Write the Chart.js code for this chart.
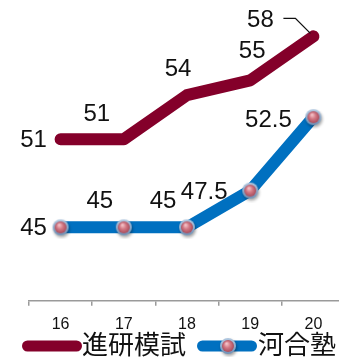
<!DOCTYPE html>
<html>
<head>
<meta charset="utf-8">
<script src="https://cdn.jsdelivr.net/npm/chart.js@4/dist/chart.umd.min.js"></script>
<style>
html,body{margin:0;padding:0;background:#fff;overflow:hidden;}
#wrap{width:339px;height:357px;overflow:hidden;position:relative;}
canvas{display:block;}
</style>
</head>
<body>
<div id="wrap"><canvas id="c" width="345" height="357"></canvas></div>
<script>
const categories = ['16', '17', '18', '19', '20'];
const shinkenValues = [51, 51, 54, 55, 58];
const kawaiValues = [45, 45, 45, 47.5, 52.5];
const seriesNames = ['進研模試', '河合塾'];
const yMin = 40, yMax = 60;

const RED = '#84002a';
const BLUE = '#0070c0';

function makeMarker() {
  const c = document.createElement('canvas');
  c.width = 24; c.height = 24;
  const g = c.getContext('2d');
  g.save();
  g.shadowColor = 'rgba(0,0,0,0.35)';
  g.shadowBlur = 3; g.shadowOffsetX = 1; g.shadowOffsetY = 2;
  const ring = g.createLinearGradient(0, 3, 0, 21);
  ring.addColorStop(0, '#b7cde4'); ring.addColorStop(1, '#6a8cb3');
  g.beginPath(); g.arc(12, 12, 8, 0, Math.PI * 2); g.fillStyle = ring; g.fill();
  g.restore();
  const ball = g.createRadialGradient(10.5, 9.5, 0.5, 12, 12, 6.5);
  ball.addColorStop(0, '#f4c2c8'); ball.addColorStop(0.45, '#d27884'); ball.addColorStop(1, '#a34656');
  g.beginPath(); g.arc(12, 12, 6, 0, Math.PI * 2); g.fillStyle = ball; g.fill();
  return c;
}
const marker = makeMarker();

const labelStyle = [
  [[-27, 0], [-27, -26], [-9, -27], [2, -30], [-53, -17]],
  [[-27, 0], [-24, -27], [-24, -27], [-46, 1], [-45, 2]]
];

const labelsPlugin = {
  id: 'valueLabels',
  afterDatasetsDraw(chart) {
    const ctx = chart.ctx;
    ctx.save();
    ctx.font = '24px "Liberation Sans", Arial, sans-serif';
    ctx.fillStyle = '#111';
    ctx.textAlign = 'center';
    ctx.textBaseline = 'middle';
    chart.data.datasets.forEach((ds, i) => {
      const meta = chart.getDatasetMeta(i);
      meta.data.forEach((pt, j) => {
        const o = labelStyle[i][j];
        ctx.fillText(String(ds.data[j]), pt.x + o[0], pt.y + o[1] + 1);
      });
    });
    const p = chart.getDatasetMeta(0).data[4];
    ctx.strokeStyle = '#111';
    ctx.lineWidth = 1.3;
    ctx.beginPath();
    ctx.moveTo(p.x - 30, p.y - 18);
    ctx.lineTo(p.x - 18, p.y - 18);
    ctx.lineTo(p.x - 3, p.y - 3);
    ctx.stroke();
    ctx.restore();
  }
};

const legendPlugin = {
  id: 'customLegend',
  afterDraw(chart) {
    const ctx = chart.ctx;
    const y = 346;
    ctx.save();
    ctx.lineCap = 'round';
    ctx.lineWidth = 11;
    ctx.strokeStyle = RED;
    ctx.beginPath(); ctx.moveTo(27.5, y); ctx.lineTo(76.5, y); ctx.stroke();
    ctx.strokeStyle = BLUE;
    ctx.beginPath(); ctx.moveTo(202.5, y); ctx.lineTo(251.5, y); ctx.stroke();
    ctx.drawImage(marker, 228 - 12, y - 12);
    ctx.font = '26px "Noto Sans CJK JP", sans-serif';
    ctx.fillStyle = '#111';
    ctx.textAlign = 'left';
    ctx.textBaseline = 'middle';
    ctx.fillText(seriesNames[0], 82, 344);
    ctx.fillText(seriesNames[1], 258, 344);
    ctx.restore();
  }
};

new Chart(document.getElementById('c'), {
  type: 'line',
  data: {
    labels: categories,
    datasets: [
      {
        label: seriesNames[0], data: shinkenValues,
        borderColor: RED, backgroundColor: RED, borderWidth: 12,
        borderCapStyle: 'round', borderJoinStyle: 'round',
        pointRadius: 0, pointHoverRadius: 0, tension: 0, fill: false, clip: false
      },
      {
        label: seriesNames[1], data: kawaiValues,
        borderColor: BLUE, backgroundColor: BLUE, borderWidth: 12,
        borderCapStyle: 'round', borderJoinStyle: 'round',
        pointStyle: marker, pointRadius: 8, pointHoverRadius: 8, tension: 0, fill: false, clip: false
      }
    ]
  },
  options: {
    responsive: false,
    animation: false,
    devicePixelRatio: 1,
    layout: { autoPadding: false, padding: { left: 29, right: 0, top: 7, bottom: 14 } },
    plugins: { legend: { display: false }, tooltip: { enabled: false } },
    scales: {
      x: {
        offset: true,
        grid: { display: true, drawOnChartArea: false, drawTicks: true, tickLength: 5, color: '#9a9a9a', lineWidth: 1.5, offset: true },
        border: { display: true, color: '#9a9a9a', width: 1.5 },
        ticks: { font: { family: '"Liberation Sans", Arial, sans-serif', size: 16 }, color: '#111', padding: 9 }
      },
      y: { display: false, min: yMin, max: yMax }
    }
  },
  plugins: [labelsPlugin, legendPlugin]
});
</script>
</body>
</html>
